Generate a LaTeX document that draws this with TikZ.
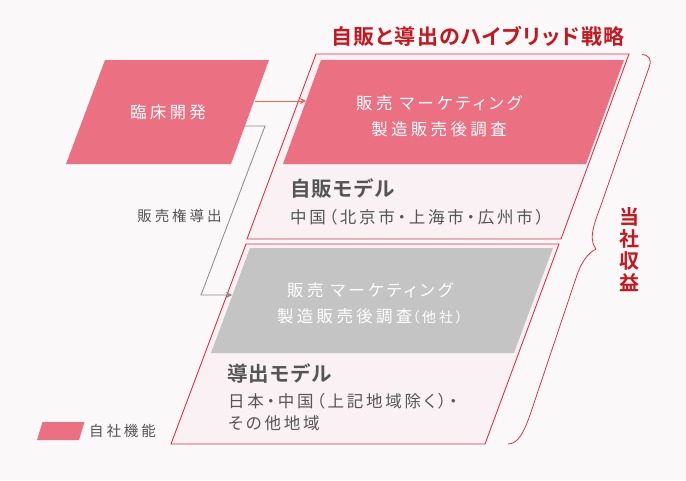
\documentclass[tikz,border=0pt]{standalone}
\usepackage{fontspec}
\setmainfont{Noto Sans CJK JP}[LetterSpace=20,RawFeature=+palt,BoldFont={Noto Sans CJK JP Bold}]
\newfontfamily\tighter{Noto Sans CJK JP}[LetterSpace=6,RawFeature=+palt,BoldFont={Noto Sans CJK JP Bold}]
\newfontfamily\darkfont{Noto Sans CJK JP}[LetterSpace=17,RawFeature=+palt,BoldFont={Noto Sans CJK JP Bold}]
\definecolor{bgc}{HTML}{FBF8FA}
\definecolor{pinkf}{HTML}{EB7082}
\definecolor{paneF}{HTML}{F9F1F3}
\definecolor{redl}{HTML}{DC3545}
\definecolor{head}{HTML}{C8161E}
\definecolor{grayf}{HTML}{C4C4C4}
\definecolor{txt}{HTML}{555555}
\definecolor{orangel}{HTML}{E8654F}
\definecolor{grayl}{HTML}{8A8888}
\usetikzlibrary{arrows.meta}
\tikzset{
  pane/.style={draw=redl,line width=0.9pt,fill=paneF},
  pinkshape/.style={fill=pinkf},
  grayshape/.style={fill=grayf},
  whitetext/.style={text=white,font=\fontsize{16.5}{26}\selectfont,align=center,inner sep=0pt},
  darktext/.style={text=txt,font=\fontsize{16.5}{22}\selectfont\darkfont,align=left,inner sep=0pt,anchor=west},
  boldtext/.style={text=txt,font=\fontsize{20.5}{22}\selectfont\tighter\bfseries,inner sep=0pt,anchor=west},
  smalltext/.style={inner sep=0pt,text=txt,font=\fontsize{14.5}{16}\selectfont},
  conn/.style={line width=0.8pt,-{Stealth[length=6pt,width=6pt]}},
}
\begin{document}
\begin{tikzpicture}[x=1pt,y=-1pt]
\useasboundingbox (0,0) rectangle (686,480);
\fill[bgc] (0,0) rectangle (686,480);
% outer panes
\draw[pane] (316,54) -- (629,54) -- (561,239) -- (247,239) -- cycle;
\draw[pane] (246,244) -- (559,244) -- (485,444) -- (171,444) -- cycle;
% inner shapes
\fill[pinkshape] (105,60) -- (269,60) -- (231,164) -- (66,164) -- cycle;
\fill[pinkshape] (321,60) -- (624,60) -- (586,164) -- (283,164) -- cycle;
\fill[grayshape] (250,248) -- (553,248) -- (514,353) -- (211,353) -- cycle;
\fill[pinkshape] (42.5,422) -- (84.5,422) -- (79,440) -- (37,440) -- cycle;
% connectors
\coordinate (a1) at (255,101);
\coordinate (a2) at (306,101);
\coordinate (b1) at (244,126);
\coordinate (b2) at (265,126);
\coordinate (b3) at (201,295);
\coordinate (b4) at (232,295);
\draw[conn,orangel] (a1) -- (a2);
\draw[conn,grayl] (b1) -- (b2) -- (b3) -- (b4);
% brace
\draw[redl,line width=0.8pt,line join=round]
 (642,54.5) .. controls (648,54.5) and (652,59) .. (649.5,66)
 -- (600,208)
 .. controls (591,231) and (590,241) .. (596,249)
 .. controls (588,253) and (581,262) .. (576,278)
 -- (530,415)
 .. controls (524,432) and (518,444) .. (508,444);
% texts
\node[inner sep=0pt,text=head,font=\fontsize{21}{22}\selectfont\tighter\bfseries] (title) at (478,36) {自販と導出のハイブリッド戦略};
\node[whitetext] (clin) at (168,112.5) {臨床開発};
\node[whitetext] (own) at (439,116) {販売 マーケティング\\製造販売後調査};
\node[whitetext] (lic) at (370,303.5) {販売 マーケティング\\製造販売後調査{\fontsize{14}{26}\selectfont（他社）}};
\node[boldtext] (m1) at (290,189) {自販モデル};
\node[darktext] (m1b) at (290,217) {中国（北京市・上海市・広州市）};
\node[boldtext] (m2) at (227,374) {導出モデル};
\node[darktext] (m2b) at (228,412) {日本・中国（上記地域除く）・\\その他地域};
\node[smalltext] (ll) at (179.5,216) {販売権導出};
\node[smalltext] (lg) at (122.5,431) {自社機能};
\node[inner sep=0pt,text=head,font=\fontsize{20}{22}\selectfont\tighter\bfseries,align=center] (rev) at (629,250) {当\\社\\収\\益};
\end{tikzpicture}
\end{document}
